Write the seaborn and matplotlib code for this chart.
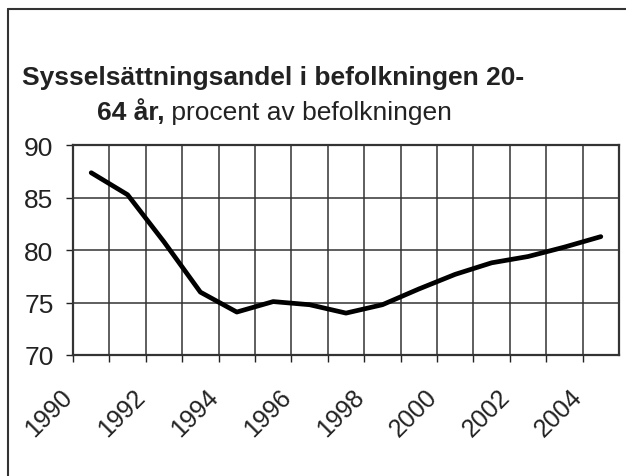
import numpy as np
import pandas as pd
import seaborn as sns
import matplotlib.pyplot as plt
from matplotlib.lines import Line2D
from matplotlib.transforms import ScaledTranslation

# Datos
years = [1990, 1991, 1992, 1993, 1994, 1995, 1996, 1997, 1998, 1999,
         2000, 2001, 2002, 2003, 2004]
share = [87.4, 85.3, 80.8, 76.0, 74.1, 75.1, 74.8, 74.0, 74.8, 76.3,
         77.7, 78.8, 79.4, 80.3, 81.3]
year_labels = ["1990", "1992", "1994", "1996", "1998", "2000", "2002", "2004"]

df = pd.DataFrame({"year": years, "share": share})

sns.set_style("white")
plt.rcParams['font.family'] = ['Liberation Sans', 'DejaVu Sans']

fig = plt.figure(figsize=(6.26, 4.77), dpi=100)
ax = fig.add_axes([73 / 626, 1 - 356 / 477, 546 / 626, 209.5 / 477])

sns.lineplot(data=df, x="year", y="share", ax=ax, color="black", linewidth=3.4)

# Eje y
ax.set_ylim(70, 90)
ax.set_yticks([70, 75, 80, 85, 90])
ax.tick_params(axis="y", labelsize=19, length=5, width=1, pad=9,
               left=True, colors="#222222")

# Eje x: lineas entre categorias, etiqueta cada dos años
ax.set_xlim(years[0] - 0.5, years[-1] + 0.5)
edges = [y - 0.5 for y in years]
ax.set_xticks(edges)
ax.set_xticklabels([str(y) if str(y) in year_labels else "" for y in years])
ax.tick_params(axis="x", labelsize=18, length=5, width=1, pad=22,
               bottom=True, colors="#222222")
shift = ScaledTranslation(-4 / 100, 0, fig.dpi_scale_trans)
for lab in ax.get_xticklabels():
    lab.set_rotation(45)
    lab.set_rotation_mode("anchor")
    lab.set_ha("right")
    lab.set_va("center")
    lab.set_transform(lab.get_transform() + shift)

ax.grid(True, color="#333333", linewidth=1.1)
for s in ax.spines.values():
    s.set_color("#333333")
    s.set_linewidth(1.6)
ax.set_xlabel("")
ax.set_ylabel("")

# Titulo
fig.text(22 / 626, 1 - 85 / 477, "Sysselsättningsandel i befolkningen 20-",
         fontsize=19, fontweight="bold", color="#222222", va="baseline")
t1 = fig.text(97 / 626, 1 - 120 / 477, "64 år,", fontsize=19,
              fontweight="bold", color="#222222", va="baseline")
fig.canvas.draw()
bb = t1.get_window_extent()
fig.text(bb.x1 / fig.bbox.width, 1 - 120 / 477, " procent av befolkningen",
         fontsize=19, color="#222222", va="baseline")

# Marco
fig.add_artist(Line2D([8 / 626, 1], [1 - 10 / 477, 1 - 10 / 477],
                      transform=fig.transFigure, color="#333333", linewidth=1.5))
fig.add_artist(Line2D([8 / 626, 8 / 626], [0, 1 - 10 / 477],
                      transform=fig.transFigure, color="#333333", linewidth=1.5))

fig.savefig("out.png", dpi=100)
